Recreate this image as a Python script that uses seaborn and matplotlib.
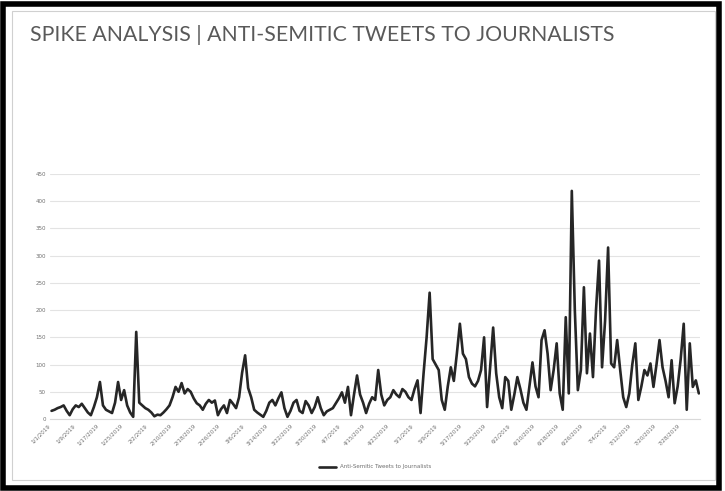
import numpy as np
import pandas as pd
import matplotlib
matplotlib.use("Agg")
import matplotlib.pyplot as plt
import seaborn as sns
from matplotlib.patches import Rectangle

title = "SPIKE ANALYSIS | ANTI-SEMITIC TWEETS TO JOURNALISTS"
series_name = "Anti-Semitic Tweets to Journalists"
y_ticks = [0, 50, 100, 150, 200, 250, 300, 350, 400, 450]

# daily counts
tweets = [
    15, 17, 20, 22, 25, 15, 7, 18, 25, 22, 28, 20, 12, 7, 22, 40, 68, 25, 17, 14,
    11, 30, 68, 35, 53, 25, 12, 4, 160, 30, 25, 20, 17, 12, 5, 8, 7, 12, 18, 25,
    40, 59, 50, 66, 47, 55, 50, 38, 29, 25, 17, 28, 35, 30, 34, 7, 18, 25, 11, 35,
    28, 20, 40, 85, 117, 57, 40, 17, 12, 8, 4, 15, 30, 35, 25, 38, 49, 20, 4, 15,
    30, 35, 15, 11, 33, 25, 11, 22, 40, 20, 7, 14, 17, 20, 29, 38, 49, 30, 59, 7,
    45, 80, 45, 30, 11, 28, 40, 35, 90, 45, 25, 35, 40, 53, 45, 40, 55, 50, 40, 35,
    55, 71, 11, 84, 150, 232, 110, 100, 90, 35, 17, 60, 95, 70, 120, 175, 120, 110, 77, 65,
    60, 70, 90, 150, 22, 95, 168, 84, 40, 20, 77, 70, 17, 45, 77, 55, 30, 17, 60, 104,
    60, 40, 145, 163, 120, 53, 90, 139, 47, 17, 187, 47, 419, 200, 53, 90, 242, 84, 157, 77,
    200, 291, 95, 180, 315, 102, 95, 145, 90, 40, 22, 47, 100, 139, 35, 60, 90, 80, 102, 59,
    100, 145, 95, 70, 40, 108, 29, 60, 110, 175, 17, 139, 59, 71, 47,
]
dates = pd.date_range("2019-01-01", periods=len(tweets), freq="D")

df = pd.DataFrame({"day": np.arange(len(tweets)), "tweets": tweets})

sns.set_style("white")
fig = plt.figure(figsize=(7.25, 4.91), dpi=100)
ax = fig.add_axes([0.069, 0.1466, 0.897, 0.499])

sns.lineplot(data=df, x="day", y="tweets", color="#262626", linewidth=1.9,
             label=series_name, ax=ax)

ax.set_ylim(0, 450)
ax.set_xlim(-0.5, len(tweets) - 0.5)
ax.set_yticks(y_ticks)
ax.set_yticklabels([str(v) for v in y_ticks], fontsize=4, color="#6f6f6f")
tick_pos = list(range(0, len(tweets), 8))
ax.set_xticks(tick_pos)
ax.set_xticklabels([f"{d.month}/{d.day}/{d.year}" for d in dates[tick_pos]],
                   rotation=45, ha="right", fontsize=4, color="#6f6f6f")
ax.tick_params(length=0, pad=3)
ax.grid(axis="y", color="#e3e3e3", linewidth=0.8)
ax.set_axisbelow(True)
for s in ["top", "right", "left"]:
    ax.spines[s].set_visible(False)
ax.spines["bottom"].set_color("#d9d9d9")
ax.set_xlabel("")
ax.set_ylabel("")

ax.legend(loc="upper center", bbox_to_anchor=(0.5, -0.165), frameon=False,
          fontsize=4, handlelength=3, labelcolor="#6f6f6f")

fig.text(0.041, 0.928, title, fontsize=15.3, color="#595959", family="Lato",
         ha="left", va="center")

# slide frame
fig.patches.append(Rectangle((0.004, 0.006), 0.988, 0.986, transform=fig.transFigure,
                             fill=False, edgecolor="black", linewidth=4))
fig.patches.append(Rectangle((0.016, 0.022), 0.97, 0.955, transform=fig.transFigure,
                             fill=False, edgecolor="#d0d0d0", linewidth=0.8))

fig.savefig("out.png", dpi=100)
